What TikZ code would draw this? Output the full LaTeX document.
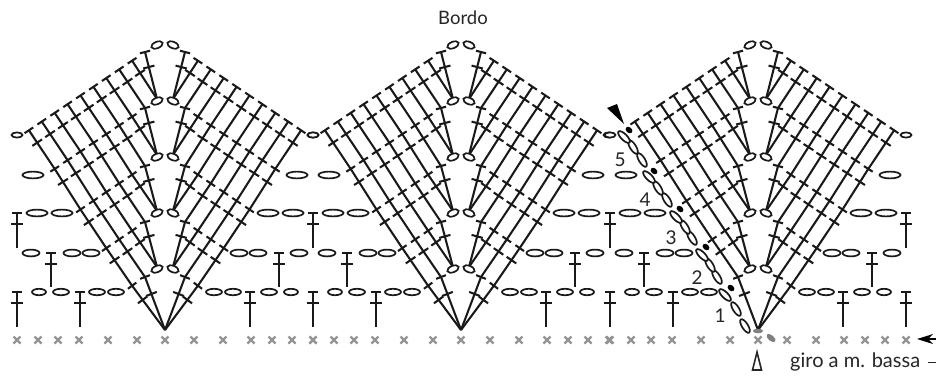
\documentclass[tikz,border=0pt]{standalone}
\usepackage{fontspec}
\setmainfont{Lato}
\tikzset{
  stem/.style={line width=2.05pt,black!90},
  chainst/.style={line width=1.7pt,black!90,fill=white},
  basex/.style={line width=2.2pt,black!42},
  titlelab/.style={inner sep=0pt,text=black!85,font=\fontsize{18.5}{20}\selectfont},
  biglab/.style={inner sep=0pt,text=black!85,font=\fontsize{20}{22}\selectfont},
  numlab/.style={inner sep=0pt,text=black!85,font=\fontsize{19}{21}\selectfont},
}
% top x, top y, bottom x, bottom y
\newcommand\TT[4]{%
  \pgfmathsetmacro\ddx{#3-(#1)}\pgfmathsetmacro\ddy{#4-(#2)}%
  \pgfmathsetmacro\LL{sqrt(\ddx*\ddx+\ddy*\ddy)}%
  \pgfmathsetmacro\ux{\ddx/\LL}\pgfmathsetmacro\uy{\ddy/\LL}%
  \pgfmathsetmacro\mx{#1+0.32*\ddx}\pgfmathsetmacro\my{#2+0.32*\ddy}%
  \draw[stem] (#1,#2) -- (#3,#4);
  \draw[stem] ({#1-5.2*\uy},{#2+5.2*\ux}) -- ({#1+5.2*\uy},{#2-5.2*\ux});
  \draw[stem] ({\mx-5.8*\uy},{\my+5.8*\ux}) -- ({\mx+5.8*\uy},{\my-5.8*\ux});
}
% x, y, rx, ry, rotation
\newcommand\CH[5]{\draw[chainst,rotate around={#5:(#1,#2)}] (#1,#2) ellipse [x radius=#3,y radius=#4];}
\newcommand\XM[1]{\draw[basex] ({#1-3.5},336.5) -- ({#1+3.5},343.5) ({#1-3.5},343.5) -- ({#1+3.5},336.5);}
\begin{document}
\begin{tikzpicture}[x=1pt,y=-1pt]
\useasboundingbox (0,0) rectangle (941,376);
\fill[white] (0,0) rectangle (941,376);
\foreach \cx/\fan in {165/1,461/2,758/3}{
  % base marks
  \foreach \o in {-148,-127,-107,-86,-57,-28,0,29,58,86,107,127,148}{\XM{\cx+\o}}
  % fan stitches
  \foreach \s in {-1,1}{
    \foreach \ytop/\yprev/\cnt/\ebot in {277/0/2/330,222/277/4/267,166/222/6/211,108/166/8/155,52/108/10/99}{
      \pgfmathtruncatemacro\last{\cnt-1}
      \ifnum\fan=3 \ifnum\s=-1 \pgfmathtruncatemacro\last{\cnt-2}\fi\fi
      \foreach \i in {0,...,\last}{
        \pgfmathsetmacro\tx{\cx+\s*(20+12.9*\i)}
        \pgfmathsetmacro\ty{\ytop+8.7*\i}
        \ifnum\ebot=330
          \TT{\tx}{\ty}{\cx}{330}
        \else
          \ifnum\i<2
            \TT{\tx}{\ty}{\cx+\s*8}{\ebot}
          \else
            \pgfmathsetmacro\bx{\cx+\s*(20+12.9*(\i-2))}
            \pgfmathsetmacro\by{\yprev+8.7*(\i-2)}
            \TT{\tx}{\ty}{\bx}{\by}
          \fi
        \fi
      }
    }
  }
  % centre pairs
  \foreach \ey in {45,101,157,213,269}{
    \CH{\cx-8}{\ey}{6}{3.2}{22}
    \CH{\cx+8}{\ey}{6}{3.2}{-22}
  }
  % side chains
  \foreach \s in {-1,1}{
    \CH{\cx+\s*148}{135}{5.5}{2.6}{0}
    \CH{\cx+\s*132}{175}{10.5}{3.4}{0}
    \CH{\cx+\s*128}{213}{10.5}{3.4}{0}
    \CH{\cx+\s*103}{213}{10.5}{3.4}{0}
    \CH{\cx+\s*134}{253}{8.5}{3.4}{0}
    \CH{\cx+\s*93}{253}{8.5}{3.4}{0}
    \CH{\cx+\s*74}{253}{8.5}{3.4}{0}
    \CH{\cx+\s*126}{292}{7}{3.2}{0}
    \CH{\cx+\s*104}{292}{8}{3.2}{0}
    \CH{\cx+\s*68}{292}{8}{3.2}{0}
    \CH{\cx+\s*49}{292}{8}{3.2}{0}
    \TT{\cx+\s*114}{253}{\cx+\s*114}{287}
    \TT{\cx+\s*85}{292}{\cx+\s*85}{327}
    % the outer stitches are shared between neighbouring fans
    \pgfmathtruncatemacro\skipit{(\fan==2 && \s==1) ? 1 : 0}
    \ifnum\skipit=0
      \TT{\cx+\s*148}{213}{\cx+\s*148}{248}
      \TT{\cx+\s*148}{292}{\cx+\s*148}{327}
    \fi
  }
}
% foundation chain of the third fan
\foreach \x/\y/\r in {745/326/-58,736/309/-58,725/295/-45,
  717/277/-58,710/265/-58,702/255/-45,
  692/238/-58,685/227/-58,676/217/-45,
  667/200/-58,658/188/-58,649/177/-45,
  642/160/-58,633/147/-58,624/137/-45}{
  \CH{\x}{\y}{7.8}{3}{\r}
}
\foreach \x/\y in {731/288,706/247,680/209,654/171,629/130}{
  \fill[black,rotate around={-40:(\x,\y)}] (\x,\y) ellipse [x radius=3.8,y radius=2.8];
}
\fill[black] (624,124) -- (607,108) -- (617,104) -- cycle;
\fill[black!50] (758,331) ellipse [x radius=5,y radius=2.3];
\fill[black!50,rotate around={-40:(771,338)}] (771,338) ellipse [x radius=5.5,y radius=2.8];
% start mark
\draw[line width=1.6pt,black!85,line join=miter] (757,352) -- (761.5,370) -- (752.5,370) -- cycle;
% arrow
\coordinate (arrS) at (936,339);
\coordinate (arrE) at (925,339);
\draw[line width=1.4pt] (arrS) -- (arrE);
\fill[black] (917,339) -- (933,334) -- (928,339) -- (933,344) -- cycle;
% labels
\node[titlelab] (bordo) at (463,18) {Bordo};
\node[biglab,anchor=west] (giro) at (790,362) {giro a m. bassa};
\coordinate (dashA) at (928,362);
\coordinate (dashB) at (936,362);
\draw[line width=1pt,black!85] (dashA) -- (dashB);
\node[numlab] (n5) at (620,160) {5};
\node[numlab] (n4) at (645,200) {4};
\node[numlab] (n3) at (671,238) {3};
\node[numlab] (n2) at (697,278) {2};
\node[numlab] (n1) at (720,316) {1};
\end{tikzpicture}
\end{document}
